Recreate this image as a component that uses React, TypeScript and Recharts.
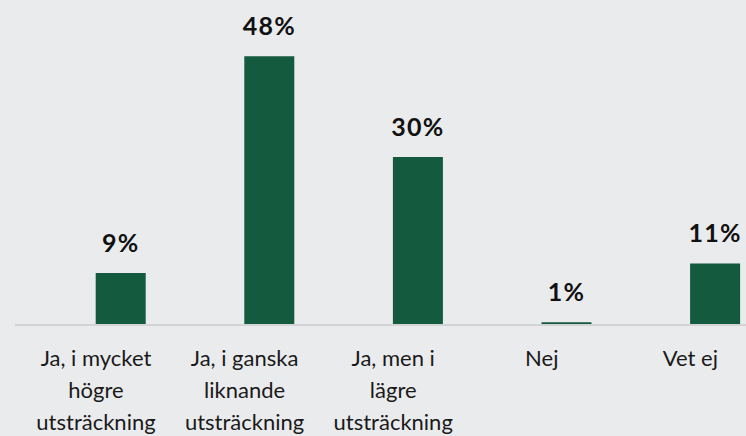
import React from "react";
import { BarChart, Bar, XAxis, YAxis, LabelList } from "recharts";

const categories = [
  "Ja, i mycket\nhögre\nutsträckning",
  "Ja, i ganska\nliknande\nutsträckning",
  "Ja, men i\nlägre\nutsträckning",
  "Nej",
  "Vet ej",
];
const values = [9.3, 48, 30, 0.5, 11];
const valueLabels = ["9%", "48%", "30%", "1%", "11%"];

const data = categories.map((c, i) => ({ name: c, value: values[i], label: valueLabels[i] }));

const FONT = "Lato, 'Noto Sans', sans-serif";

const Tick = (props: any) => {
  const { x, payload } = props;
  const lines = String(payload.value).split("\n");
  const cx = x - 25;
  return (
    <text x={cx} y={366} textAnchor="middle" fontFamily={FONT} fontSize={22} fill="#1a1a1a">
      {lines.map((l, i) => (
        <tspan key={i} x={cx} y={366 + i * 32.2}>
          {l}
        </tspan>
      ))}
    </text>
  );
};

export default function App() {
  return (
    <div
      style={{
        position: "absolute",
        left: 0,
        top: 0,
        width: 746,
        height: 436,
        overflow: "hidden",
        background: "#eaebed",
      }}
    >
      <BarChart
        width={800}
        height={436}
        data={data}
        margin={{ top: 45, right: 0, left: 15, bottom: 0 }}
        barCategoryGap={0}
      >
        <XAxis
          dataKey="name"
          height={111}
          tickLine={false}
          axisLine={{ stroke: "#d2d3d5", strokeWidth: 2 }}
          tick={<Tick />}
          interval={0}
          padding={{ left: 31.7, right: 10.3 }}
        />
        <YAxis hide domain={[0, 50]} />
        <Bar dataKey="value" fill="#145a3f" barSize={50} isAnimationActive={false}>
          <LabelList
            dataKey="label"
            position="top"
            offset={21}
            style={{ fontFamily: FONT, fontSize: 25, fontWeight: 700, fill: "#111", letterSpacing: 1.2 }}
          />
        </Bar>
      </BarChart>
    </div>
  );
}
